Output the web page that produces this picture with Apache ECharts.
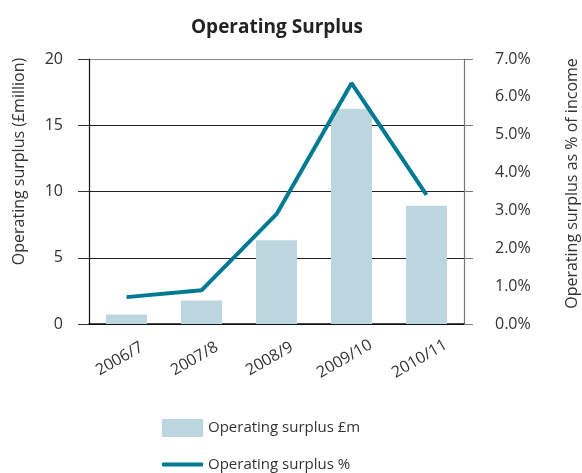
<!DOCTYPE html>
<html>
<head>
<meta charset="utf-8">
<script src="https://cdn.jsdelivr.net/npm/echarts@6/dist/echarts.min.js"></script>
<style>
html,body{margin:0;padding:0;background:#fff;}
#chart{width:582px;height:473px;}
</style>
</head>
<body>
<div id="chart"></div>
<script>
// values
var years = ['2006/7', '2007/8', '2008/9', '2009/10', '2010/11'];
var surplusM = [0.72, 1.78, 6.32, 16.24, 8.92];
var surplusPct = [0.71, 0.89, 2.9, 6.36, 3.41];

var font = '"Open Sans", "Noto Sans", sans-serif';
var chart = echarts.init(document.getElementById('chart'));

var legendText = {fontSize: 15, color: '#333', fontFamily: font};

var option = {
    animation: false,
    textStyle: {fontFamily: font},
    title: {
        text: 'Operating Surplus',
        left: 186,
        top: 13,
        textStyle: {fontSize: 19, fontWeight: 'bold', color: '#222', fontFamily: font}
    },
    grid: {left: 89, right: 118, top: 59, bottom: 149, outerBoundsMode: 'none'},
    legend: [
        {
            left: 157, top: 414,
            itemWidth: 41, itemHeight: 18,
            textStyle: legendText,
            data: [{name: 'Operating surplus £m', icon: 'rect'}]
        },
        {
            left: 157, top: 452,
            itemWidth: 41, itemHeight: 4,
            textStyle: legendText,
            data: [{name: 'Operating surplus %', icon: 'roundRect'}]
        }
    ],
    xAxis: {
        type: 'category',
        data: years,
        axisLine: {lineStyle: {color: '#111', width: 1.5}},
        axisTick: {show: false},
        axisLabel: {
            rotate: 30, align: 'center', verticalAlign: 'middle', margin: 31,
            padding: [0, 16, 0, 0], fontSize: 16, color: '#333', interval: 0
        }
    },
    yAxis: [
        {
            type: 'value', min: 0, max: 20, interval: 5,
            name: 'Operating surplus (£million)',
            nameLocation: 'middle', nameRotate: 90, nameGap: 62,
            nameTextStyle: {fontSize: 16, color: '#333', padding: [0, 0, 0, 60]},
            axisLine: {show: true, lineStyle: {color: '#111', width: 1.2}},
            axisTick: {show: true, length: 11, lineStyle: {color: '#333'}},
            axisLabel: {margin: 26, fontSize: 16, color: '#333'},
            splitLine: {show: true, lineStyle: {color: ['#111', '#222', '#222', '#222', '#888'], width: 1.2}}
        },
        {
            type: 'value', min: 0, max: 7, interval: 1, position: 'right', offset: 0,
            name: 'Operating surplus as % of income',
            nameLocation: 'middle', nameRotate: 90, nameGap: 100,
            nameTextStyle: {fontSize: 16, color: '#333', padding: [0, 0, 0, 16]},
            axisLine: {show: true, lineStyle: {color: '#777', width: 1.2}},
            axisTick: {show: false},
            axisLabel: {margin: 31, fontSize: 16, color: '#333', formatter: function (v) { return v.toFixed(1) + '%'; }},
            splitLine: {show: false}
        },
        {
            type: 'value', min: 0, max: 20, interval: 5, position: 'right', offset: 0,
            axisLine: {show: false},
            axisTick: {show: true, length: 9, lineStyle: {color: '#777'}},
            axisLabel: {show: false},
            splitLine: {show: false}
        }
    ],
    series: [
        {
            name: 'Operating surplus £m',
            type: 'bar',
            yAxisIndex: 0,
            data: surplusM,
            barWidth: 41,
            itemStyle: {color: '#BCD6DF'}
        },
        {
            name: 'Operating surplus %',
            type: 'line',
            yAxisIndex: 1,
            data: surplusPct,
            symbol: 'none',
            lineStyle: {width: 4, color: '#007A93'},
            itemStyle: {color: '#007A93'},
            z: 5
        }
    ]
};
chart.setOption(option);
</script>
</body>
</html>
